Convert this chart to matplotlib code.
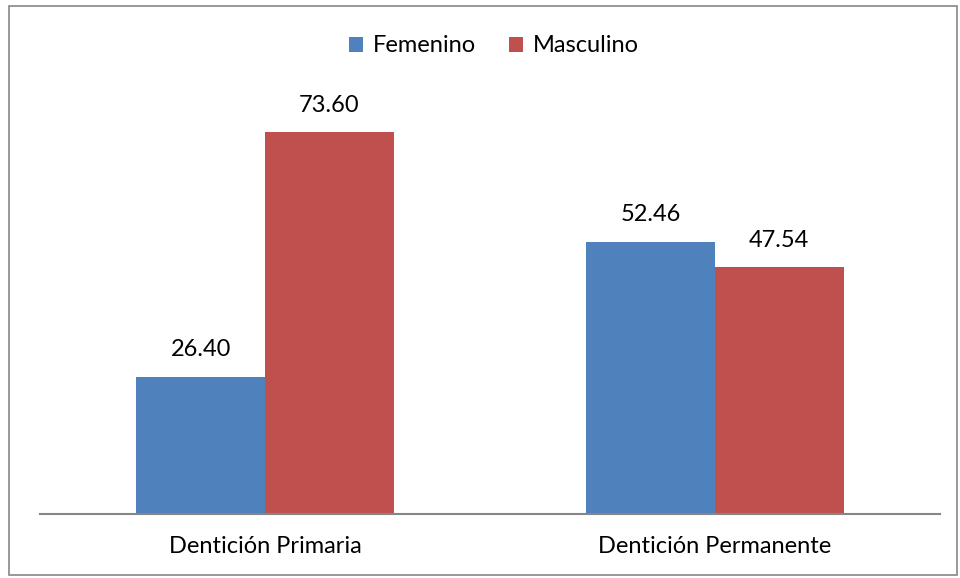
import matplotlib
matplotlib.use("Agg")
import matplotlib.pyplot as plt
import numpy as np
from matplotlib.patches import Rectangle

categories = ["Dentición Primaria", "Dentición Permanente"]
series_names = ["Femenino", "Masculino"]
femenino = [26.40, 52.46]
masculino = [73.60, 47.54]
colors = ["#4F81BD", "#C0504D"]

plt.rcParams['font.family'] = ['Lato', 'DejaVu Sans']
FS = 17

fig = plt.figure(figsize=(9.6, 5.78), dpi=100)
ax = fig.add_axes([40/960, 64/578, 900/960, (514-99)/578])

x = np.arange(len(categories))
w = 0.286
b1 = ax.bar(x - w/2, femenino, w, color=colors[0], label=series_names[0])
b2 = ax.bar(x + w/2, masculino, w, color=colors[1], label=series_names[1])

for bars, vals in ((b1, femenino), (b2, masculino)):
    for r, v in zip(bars, vals):
        ax.annotate(f"{v:.2f}", (r.get_x() + r.get_width()/2, v),
                    xytext=(0, 12), textcoords="offset points",
                    ha="center", va="bottom", fontsize=FS, color="black")

ax.set_xlim(-0.5, 1.5)
ax.set_ylim(0, 80)
ax.set_xticks(x)
ax.set_xticklabels(categories, fontsize=FS)
ax.tick_params(axis='x', length=0, pad=16)
ax.set_yticks([])
for s in ("top", "right", "left"):
    ax.spines[s].set_visible(False)
ax.spines["bottom"].set_color("#868686")
ax.spines["bottom"].set_linewidth(1.5)

leg = fig.legend(loc="center", bbox_to_anchor=(494/960, 1 - 46/578), ncol=2,
                 frameon=False, fontsize=FS, handlelength=0.6, handleheight=0.6,
                 handletextpad=0.4, columnspacing=1.4)

fig.patches.append(Rectangle((9/960, 3/578), 948/960, 569/578, transform=fig.transFigure,
                             fill=False, edgecolor="#868686", linewidth=1.2))

fig.savefig("out.png", dpi=100)
